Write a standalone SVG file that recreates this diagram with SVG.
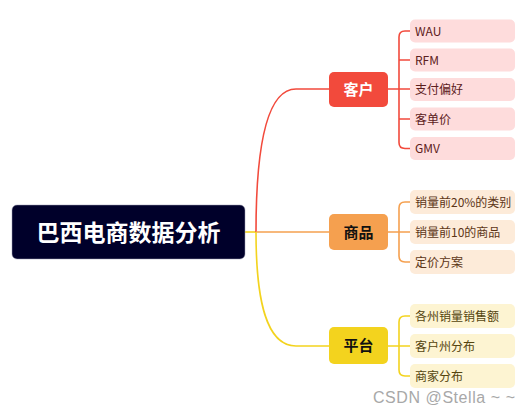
<svg xmlns="http://www.w3.org/2000/svg" width="531" height="413" viewBox="0 0 531 413">
<style>
.cjk{font-family:"Noto Sans CJK SC","Noto Sans",sans-serif}
.root{fill:#00002a;stroke:#9a9ab0;stroke-width:0.5}
.rt{fill:#fff;font-size:23px;font-weight:bold;text-anchor:middle}
.mt{font-size:15px;font-weight:bold;text-anchor:middle}
.lt{font-size:12px}
.r{fill:none;stroke:#f24a3c;stroke-width:1.6}
.o{fill:none;stroke:#f5a04f;stroke-width:1.6}
.y{fill:none;stroke:#f3d31e;stroke-width:1.6}
.lr{fill:#fedcdc}
.lo{fill:#fdebd9}
.ly{fill:#fdf4d2}
.tr{fill:#5c2020}
.to{fill:#5c3516}
.ty{fill:#54440e}
</style>
<g id="connectors">
<path class="y" d="M245,232 L256,232"/>
<path class="r" d="M256,232 C256,150 266,89 296,89 L329,89"/>
<path class="o" d="M256,232 L329,232"/>
<path class="y" d="M256,232 C256,300 266,346 296,346 L329,346"/>
<path class="r" d="M388,89 L399,89 M399,89 L399,37 Q399,31 405,31 L410,31 M399,60 L410,60 M399,89 L410,89 M399,89 L399,142.5 Q399,148.5 405,148.5 L410,148.5 M399,119 L410,119"/>
<path class="o" d="M388,232 L399,232 M399,232 L399,208 Q399,202 405,202 L410,202 M399,232 L410,232 M399,232 L399,256 Q399,262 405,262 L410,262"/>
<path class="y" d="M388,346 L399,346 M399,346 L399,322 Q399,316 405,316 L410,316 M399,346 L410,346 M399,346 L399,370 Q399,376 405,376 L410,376"/>
</g>
<g id="root">
<rect class="root" x="12" y="205" width="233" height="54" rx="5"/>
<text class="cjk rt" x="128.5" y="240.5">巴西电商数据分析</text>
</g>
<g id="n-kehu">
<rect x="329" y="72" width="59" height="35" rx="5" fill="#f24a3c"/>
<text class="cjk mt" x="358.5" y="95" fill="#fff">客户</text>
</g>
<g id="n-shangpin">
<rect x="329" y="214" width="59" height="36" rx="5" fill="#f5a04f"/>
<text class="cjk mt" x="358.5" y="237.5" fill="#111">商品</text>
</g>
<g id="n-pingtai">
<rect x="329" y="327" width="59" height="37" rx="5" fill="#f3d31e"/>
<text class="cjk mt" x="358.5" y="351" fill="#111">平台</text>
</g>
<g id="l-wau"><rect class="lr" x="410" y="19.5" width="105" height="23" rx="5"/><text class="cjk lt tr" x="415" y="35.5">WAU</text></g>
<g id="l-rfm"><rect class="lr" x="410" y="48.5" width="105" height="23" rx="5"/><text class="cjk lt tr" x="415" y="64.5">RFM</text></g>
<g id="l-zhifu"><rect class="lr" x="410" y="78" width="105" height="23" rx="5"/><text class="cjk lt tr" x="415" y="94">支付偏好</text></g>
<g id="l-kedanjia"><rect class="lr" x="410" y="107.5" width="105" height="23" rx="5"/><text class="cjk lt tr" x="415" y="123.5">客单价</text></g>
<g id="l-gmv"><rect class="lr" x="410" y="137" width="105" height="23" rx="5"/><text class="cjk lt tr" x="415" y="153">GMV</text></g>
<g id="l-top20"><rect class="lo" x="410" y="190" width="105" height="24" rx="5"/><text class="cjk lt to" x="415" y="206.5">销量前20%的类别</text></g>
<g id="l-top10"><rect class="lo" x="410" y="220" width="105" height="24" rx="5"/><text class="cjk lt to" x="415" y="236.5">销量前10的商品</text></g>
<g id="l-dingjia"><rect class="lo" x="410" y="250" width="105" height="24" rx="5"/><text class="cjk lt to" x="415" y="266.5">定价方案</text></g>
<g id="l-gezhou"><rect class="ly" x="410" y="304" width="105" height="24" rx="5"/><text class="cjk lt ty" x="415" y="320.5">各州销量销售额</text></g>
<g id="l-kehuzhou"><rect class="ly" x="410" y="334" width="105" height="24" rx="5"/><text class="cjk lt ty" x="415" y="350.5">客户州分布</text></g>
<g id="l-shangjia"><rect class="ly" x="410" y="364" width="105" height="24" rx="5"/><text class="cjk lt ty" x="415" y="380.5">商家分布</text></g>
<text x="373" y="403" font-family="Liberation Sans,Arial,sans-serif" font-size="16" fill="#a8a8a8" textLength="142" lengthAdjust="spacing">CSDN @Stella ~ ~</text>
</svg>
